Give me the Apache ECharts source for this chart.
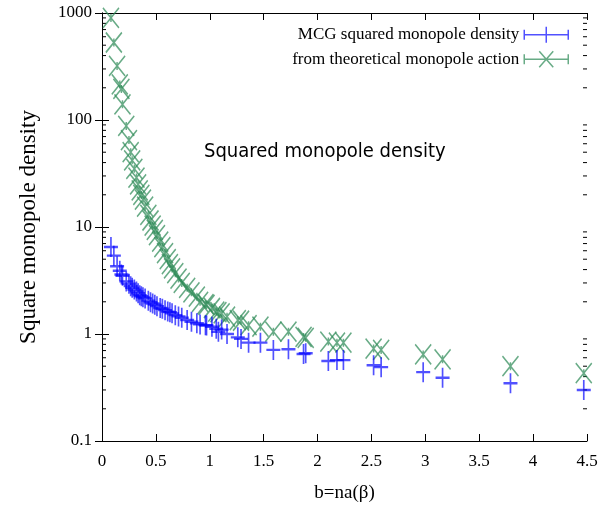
<!DOCTYPE html>
<html>
<head>
<meta charset="utf-8">
<script src="https://cdn.jsdelivr.net/npm/echarts@6/dist/echarts.min.js"></script>
<style>
  html, body { margin: 0; padding: 0; background: #fff; }
  #chart { width: 613px; height: 508px; }
</style>
</head>
<body>
<div id="chart"></div>
<script>
// b = n a(beta) values shared by both data sets
const bValues = [
  0.083, 0.11, 0.14, 0.165, 0.18, 0.19, 0.225, 0.25, 0.266, 0.28,
  0.30, 0.32, 0.335, 0.35, 0.365, 0.38, 0.40, 0.43, 0.45, 0.47,
  0.49, 0.51, 0.54, 0.56, 0.585, 0.61, 0.63, 0.65, 0.68, 0.71,
  0.74, 0.79, 0.83, 0.88, 0.91, 0.96, 0.97, 1.02, 1.06, 1.08,
  1.11, 1.16, 1.26, 1.29, 1.36, 1.47, 1.59, 1.73, 1.87, 1.89,
  2.10, 2.18, 2.24, 2.52, 2.59, 2.98, 3.16, 3.79, 4.47
];
// MCG squared monopole density
const mcgDensity = [
  6.5, 5.4, 4.3, 3.9, 3.6, 3.5, 3.1, 2.95, 2.8, 2.7,
  2.6, 2.5, 2.4, 2.3, 2.25, 2.2, 2.15, 2.05, 1.98, 1.93,
  1.88, 1.82, 1.75, 1.72, 1.67, 1.62, 1.6, 1.56, 1.5, 1.46,
  1.42, 1.35, 1.3, 1.26, 1.23, 1.21, 1.2, 1.17, 1.12, 1.05,
  1.1, 1.0, 0.93, 0.9, 0.83, 0.83, 0.71, 0.72, 0.65, 0.66,
  0.56, 0.57, 0.57, 0.51, 0.49, 0.44, 0.39, 0.346, 0.30
];
// density from the theoretical monopole action
const theoryDensity = [
  900, 530, 320, 215, 195, 140, 88, 65, 50, 42,
  35, 29, 25, 22, 20, 18, 15.5, 13, 11.5, 10.3,
  9.4, 8.4, 7.3, 6.5, 5.7, 5.0, 4.5, 4.1, 3.7, 3.3,
  3.0, 2.7, 2.45, 2.23, 2.0, 1.9, 1.87, 1.75, 1.62, 1.6,
  1.56, 1.45, 1.35, 1.33, 1.21, 1.17, 1.05, 1.05, 0.94, 0.92,
  0.85, 0.83, 0.83, 0.73, 0.71, 0.645, 0.58, 0.50, 0.43
];
const xTicks = [0, 0.5, 1, 1.5, 2, 2.5, 3, 3.5, 4, 4.5];
const yTicks = [0.1, 1, 10, 100, 1000];

const seriesNames = ['MCG squared monopole density', 'from theoretical monopole action'];
const blue = 'rgba(0,0,255,0.85)';
const green = 'rgba(46,139,87,0.9)';

// log-axis minor tick values (2..9 within each decade)
const minorTicks = [];
for (let d = 0; d < yTicks.length - 1; d++) {
  for (let k = 2; k <= 9; k++) minorTicks.push(+(k * yTicks[d]).toPrecision(6));
}

const serif = 'Liberation Serif';
const chart = echarts.init(document.getElementById('chart'), null, { renderer: 'canvas' });

const plusPath = 'path://M0,10 L14,10 M7,0 L7,20';
const crossPath = 'path://M0,0 L16,20 M16,0 L0,20 M8,6 L8,14';
const legendPlus = 'path://M0,8 L44,8 M0,3 L0,13 M44,3 L44,13 M22,0 L22,16';
const legendCross = 'path://M0,8 L44,8 M0,3 L0,13 M44,3 L44,13 M15,0 L29,16 M29,0 L15,16';

chart.setOption({
  animation: false,
  backgroundColor: '#fff',
  grid: { left: 102, right: 26, top: 13, bottom: 67 },
  title: {
    text: 'Squared monopole density',
    left: 199, top: 137,
    textStyle: { fontFamily: 'DejaVu Sans Condensed', fontSize: 20, fontWeight: 'normal', color: '#000' }
  },
  legend: {
    orient: 'vertical',
    right: 44, top: 26, padding: 0,
    align: 'right',
    itemWidth: 44, itemHeight: 16, itemGap: 7,
    textStyle: { fontFamily: serif, fontSize: 17, color: '#000' },
    data: [
      { name: seriesNames[0], icon: legendPlus, itemStyle: { color: 'transparent', borderColor: blue, borderWidth: 1.5 } },
      { name: seriesNames[1], icon: legendCross, itemStyle: { color: 'transparent', borderColor: green, borderWidth: 1.5 } }
    ]
  },
  xAxis: [
    {
      type: 'value', min: xTicks[0], max: xTicks[xTicks.length - 1], interval: 0.5,
      name: 'b=na(β)', nameLocation: 'middle', nameGap: 43,
      nameTextStyle: { fontFamily: serif, fontSize: 19, color: '#000' },
      axisLine: { onZero: false, lineStyle: { color: '#000', width: 1 } },
      axisTick: { inside: true, length: 7, lineStyle: { color: '#000' } },
      axisLabel: { fontFamily: serif, fontSize: 17, color: '#000', margin: 12 },
      splitLine: { show: false }
    },
    {
      type: 'value', position: 'top', min: xTicks[0], max: xTicks[xTicks.length - 1], interval: 0.5,
      axisLine: { onZero: false, lineStyle: { color: '#000', width: 1 } },
      axisTick: { inside: true, length: 7, lineStyle: { color: '#000' } },
      axisLabel: { show: false },
      splitLine: { show: false }
    }
  ],
  yAxis: [
    {
      type: 'log', logBase: 10, min: yTicks[0], max: yTicks[yTicks.length - 1],
      name: 'Square monopole density', nameLocation: 'middle', nameGap: 62, nameRotate: 90,
      nameTextStyle: { fontFamily: serif, fontSize: 23, color: '#000' },
      axisLine: { lineStyle: { color: '#000', width: 1 } },
      axisTick: { inside: true, length: 7, lineStyle: { color: '#000' } },
      axisLabel: { fontFamily: serif, fontSize: 17, color: '#000', margin: 10,
        formatter: v => String(+(+v).toPrecision(6)) },
      splitLine: { show: false }
    },
    {
      type: 'log', logBase: 10, min: yTicks[0], max: yTicks[yTicks.length - 1], position: 'right',
      axisLine: { lineStyle: { color: '#000', width: 1 } },
      axisTick: { inside: true, length: 7, lineStyle: { color: '#000' } },
      axisLabel: { show: false },
      splitLine: { show: false }
    }
  ],
  series: [
    {
      name: seriesNames[0], type: 'scatter', xAxisIndex: 0, yAxisIndex: 0,
      symbol: plusPath, symbolSize: [14, 20],
      itemStyle: { color: 'transparent', borderColor: blue, borderWidth: 2 },
      data: bValues.map((b, i) => [b, mcgDensity[i]]),
      z: 3
    },
    {
      name: seriesNames[1], type: 'scatter', xAxisIndex: 0, yAxisIndex: 0,
      symbol: crossPath, symbolSize: [16, 20],
      itemStyle: { color: 'transparent', borderColor: green, borderWidth: 1.6 },
      data: bValues.map((b, i) => [b, theoryDensity[i]]),
      z: 2
    },
    {
      // minor ticks on left and right log axes
      type: 'custom', xAxisIndex: 0, yAxisIndex: 0, silent: true,
      data: minorTicks.map(v => [xTicks[0], v]),
      renderItem: function (params, api) {
        const v = api.value(1);
        const l = api.coord([xTicks[0], v]);
        const r = api.coord([xTicks[xTicks.length - 1], v]);
        const s = { stroke: '#000', lineWidth: 1 };
        return {
          type: 'group',
          children: [
            { type: 'line', shape: { x1: l[0], y1: l[1], x2: l[0] + 4, y2: l[1] }, style: s },
            { type: 'line', shape: { x1: r[0], y1: r[1], x2: r[0] - 4, y2: r[1] }, style: s }
          ]
        };
      },
      z: 1
    }
  ]
});
</script>
</body>
</html>
